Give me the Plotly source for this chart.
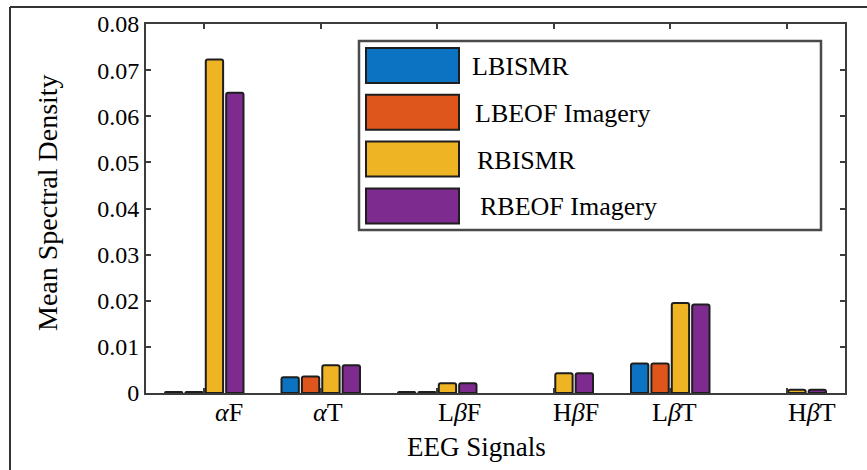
import plotly.graph_objects as go

# ---------------- data ----------------
categories = ["αF", "αT", "LβF", "HβF", "LβT", "HβT"]
tick_labels = ["<i>α</i>F", "<i>α</i>T", "L<i>β</i>F", "H<i>β</i>F", "L<i>β</i>T", "H<i>β</i>T"]
series_names = ["LBISMR", "LBEOF Imagery", "RBISMR", "RBEOF Imagery"]
lbismr = [0.0002, 0.0034, 0.0002, 0.0, 0.0064, 0.0]
lbeof_imagery = [0.0002, 0.0036, 0.0002, 0.0, 0.0064, 0.0]
rbismr = [0.0723, 0.0060, 0.0021, 0.0043, 0.0195, 0.0007]
rbeof_imagery = [0.0651, 0.0060, 0.0021, 0.0043, 0.0192, 0.0007]
y_tick_values = [0, 0.01, 0.02, 0.03, 0.04, 0.05, 0.06, 0.07, 0.08]
y_tick_labels = ["0", "0.01", "0.02", "0.03", "0.04", "0.05", "0.06", "0.07", "0.08"]
x_title = "EEG Signals"
y_title = "Mean Spectral Density"

# ---------------- style ----------------
colors = ["#0B73C2", "#DE561C", "#EFB424", "#7E2B8F"]
FONT = "Liberation Serif"
W, H = 867, 470
ML, MR, MT, MB = 146, 22, 24, 77
PW, PH = W - ML - MR, H - MT - MB
AX = "#3c3c3c"


def px_x(p):
    return (p - ML) / PW


def px_y(p):
    return (H - MB - p) / PH


fig = go.Figure()
for name, vals, col in zip(series_names,
                           [lbismr, lbeof_imagery, rbismr, rbeof_imagery],
                           colors):
    fig.add_trace(go.Bar(
        x=categories, y=vals, name=name,
        marker=dict(color=col,
                    line=dict(color="#1e1e1e", width=[2 if v > 0 else 0 for v in vals]),
                    cornerradius=2),
        showlegend=False,
    ))

fig.update_layout(
    width=W, height=H,
    margin=dict(l=ML, r=MR, t=MT, b=MB, pad=0),
    paper_bgcolor="white", plot_bgcolor="white",
    barmode="group", bargap=0.3, bargroupgap=0.15,
    font=dict(family=FONT, color="black"),
)
fig.update_xaxes(
    type="category", range=[-0.5, 5.5],
    showline=True, linecolor=AX, linewidth=2, mirror="ticks",
    ticks="inside", ticklen=5, tickcolor=AX, tickwidth=2,
    showticklabels=False, showgrid=False, zeroline=False,
)
fig.update_yaxes(
    range=[0, 0.08], tickvals=y_tick_values, ticktext=y_tick_labels,
    showline=True, linecolor=AX, linewidth=2, mirror="ticks",
    ticks="inside", ticklen=5, tickcolor=AX, tickwidth=2,
    tickfont=dict(size=24, family=FONT, color="black"),
    showgrid=False, zeroline=False,
)

annotations = []
# category labels (slightly offset to the right as in the reference)
label_offsets = [0.21, 0.06, 0.19, 0.19, 0.04, 0.22]
for i, (lab, off) in enumerate(zip(tick_labels, label_offsets)):
    annotations.append(dict(
        x=i + off, xref="x", y=px_y(412), yref="paper", text=lab,
        showarrow=False, xanchor="center", yanchor="middle",
        font=dict(size=26, family=FONT, color="black"),
    ))
annotations.append(dict(
    x=px_x(476), xref="paper", y=px_y(447), yref="paper", text=x_title,
    showarrow=False, xanchor="center", yanchor="middle",
    font=dict(size=27, family=FONT, color="black"),
))
annotations.append(dict(
    x=px_x(47), xref="paper", y=px_y(203), yref="paper", text=y_title,
    showarrow=False, xanchor="center", yanchor="middle", textangle=-90,
    font=dict(size=28, family=FONT, color="black"),
))

shapes = []
# outer frame (top and left edges)
shapes.append(dict(type="line", xref="paper", yref="paper",
                   x0=px_x(10), x1=px_x(880), y0=px_y(7), y1=px_y(7),
                   line=dict(color="#333333", width=2)))
shapes.append(dict(type="line", xref="paper", yref="paper",
                   x0=px_x(10), x1=px_x(10), y0=px_y(7), y1=px_y(480),
                   line=dict(color="#333333", width=2)))

# custom legend
shapes.append(dict(type="rect", xref="paper", yref="paper",
                   x0=px_x(359), x1=px_x(821), y0=px_y(41), y1=px_y(230),
                   line=dict(color="#4a4a4a", width=2.5), fillcolor="white",
                   layer="above"))
text_indent = [0, 3, 5, 8]
for k, (name, col) in enumerate(zip(series_names, colors)):
    top = 48 + 46.8 * k
    bot = top + 35
    shapes.append(dict(type="rect", xref="paper", yref="paper",
                       x0=px_x(366), x1=px_x(459), y0=px_y(top), y1=px_y(bot),
                       line=dict(color="#1e1e1e", width=2), fillcolor=col,
                       layer="above"))
    annotations.append(dict(
        x=px_x(470 + text_indent[k]), xref="paper", y=px_y((top + bot) / 2 + 1), yref="paper",
        text=name, showarrow=False, xanchor="left", yanchor="middle",
        font=dict(size=26, family=FONT, color="black"),
    ))

fig.update_layout(annotations=annotations, shapes=shapes)
fig.write_html("out.html")
